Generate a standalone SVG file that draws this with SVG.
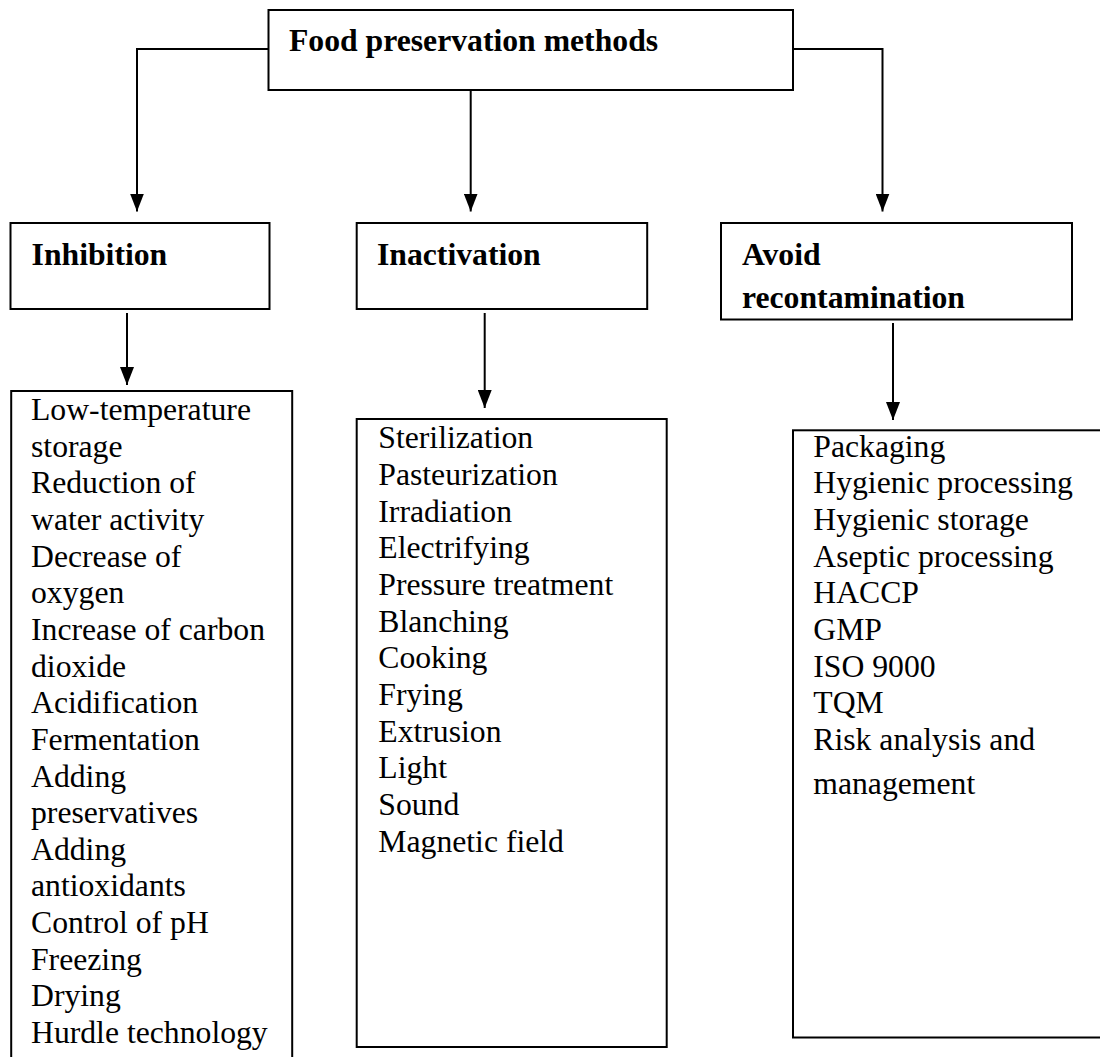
<svg xmlns="http://www.w3.org/2000/svg" width="1100" height="1057" viewBox="0 0 1100 1057">
  <style>
    .box { fill: #ffffff; stroke: #000000; stroke-width: 2; }
    .conn { fill: none; stroke: #000000; stroke-width: 2; }
    .hd { font-family: "Liberation Serif", "Times New Roman", serif; font-weight: bold; font-size: 31.7px; fill: #000000; }
    .li { font-family: "Liberation Serif", "Times New Roman", serif; font-size: 31.7px; fill: #000000; }
  </style>
  <defs>
    <marker id="arrow" viewBox="0 0 18 14" refX="18" refY="7" markerWidth="18" markerHeight="14" markerUnits="userSpaceOnUse" orient="auto">
      <path d="M0,0 L18,7 L0,14 z" fill="#000000"/>
    </marker>
  </defs>
  <rect x="0" y="0" width="1100" height="1057" fill="#ffffff"/>

  <g id="connectors">
    <polyline class="conn" points="268.5,49 137,49 137,211.5" marker-end="url(#arrow)"/>
    <line class="conn" x1="470.7" y1="90" x2="470.7" y2="211.5" marker-end="url(#arrow)"/>
    <polyline class="conn" points="793,49 882.5,49 882.5,211.5" marker-end="url(#arrow)"/>
    <line class="conn" x1="127" y1="313" x2="127" y2="385" marker-end="url(#arrow)"/>
    <line class="conn" x1="484.7" y1="313" x2="484.7" y2="408" marker-end="url(#arrow)"/>
    <line class="conn" x1="893" y1="323" x2="893" y2="420" marker-end="url(#arrow)"/>
  </g>

  <g id="node-root">
    <rect class="box" x="268.5" y="10" width="524.5" height="80"/>
    <text class="hd" x="289" y="50.7">Food preservation methods</text>
  </g>

  <g id="node-inhibition">
    <rect class="box" x="10.5" y="223" width="259" height="86"/>
    <text class="hd" x="31.6" y="265.4">Inhibition</text>
  </g>

  <g id="node-inactivation">
    <rect class="box" x="356.7" y="223" width="290.5" height="86"/>
    <text class="hd" x="377" y="265.4">Inactivation</text>
  </g>

  <g id="node-avoid">
    <rect class="box" x="721" y="223" width="351" height="96.5"/>
    <text class="hd" x="742" y="265.4">Avoid</text>
    <text class="hd" x="742" y="307.5">recontamination</text>
  </g>

  <g id="node-inhibition-list">
    <rect class="box" x="11.2" y="391" width="281" height="700"/>
    <text class="li" x="31" y="420">Low-temperature</text>
    <text class="li" x="31" y="456.65">storage</text>
    <text class="li" x="31" y="493.3">Reduction of</text>
    <text class="li" x="31" y="529.95">water activity</text>
    <text class="li" x="31" y="566.6">Decrease of</text>
    <text class="li" x="31" y="603.25">oxygen</text>
    <text class="li" x="31" y="639.9">Increase of carbon</text>
    <text class="li" x="31" y="676.55">dioxide</text>
    <text class="li" x="31" y="713.2">Acidification</text>
    <text class="li" x="31" y="749.85">Fermentation</text>
    <text class="li" x="31" y="786.5">Adding</text>
    <text class="li" x="31" y="823.15">preservatives</text>
    <text class="li" x="31" y="859.8">Adding</text>
    <text class="li" x="31" y="896.45">antioxidants</text>
    <text class="li" x="31" y="933.1">Control of pH</text>
    <text class="li" x="31" y="969.75">Freezing</text>
    <text class="li" x="31" y="1006.4">Drying</text>
    <text class="li" x="31" y="1043.05">Hurdle technology</text>
  </g>

  <g id="node-inactivation-list">
    <rect class="box" x="356.7" y="419" width="310" height="628"/>
    <text class="li" x="378.3" y="448.3">Sterilization</text>
    <text class="li" x="378.3" y="484.97">Pasteurization</text>
    <text class="li" x="378.3" y="521.64">Irradiation</text>
    <text class="li" x="378.3" y="558.31">Electrifying</text>
    <text class="li" x="378.3" y="594.98">Pressure treatment</text>
    <text class="li" x="378.3" y="631.65">Blanching</text>
    <text class="li" x="378.3" y="668.32">Cooking</text>
    <text class="li" x="378.3" y="704.99">Frying</text>
    <text class="li" x="378.3" y="741.66">Extrusion</text>
    <text class="li" x="378.3" y="778.33">Light</text>
    <text class="li" x="378.3" y="815">Sound</text>
    <text class="li" x="378.3" y="851.67">Magnetic field</text>
  </g>

  <g id="node-avoid-list">
    <rect class="box" x="793" y="430.3" width="330" height="607.2"/>
    <text class="li" x="813.3" y="456.7">Packaging</text>
    <text class="li" x="813.3" y="493.35">Hygienic processing</text>
    <text class="li" x="813.3" y="530">Hygienic storage</text>
    <text class="li" x="813.3" y="566.65">Aseptic processing</text>
    <text class="li" x="813.3" y="603.3">HACCP</text>
    <text class="li" x="813.3" y="639.95">GMP</text>
    <text class="li" x="813.3" y="676.6">ISO 9000</text>
    <text class="li" x="813.3" y="713.25">TQM</text>
    <text class="li" x="813.3" y="749.9">Risk analysis and</text>
    <text class="li" x="813.3" y="794.3">management</text>
  </g>
</svg>
